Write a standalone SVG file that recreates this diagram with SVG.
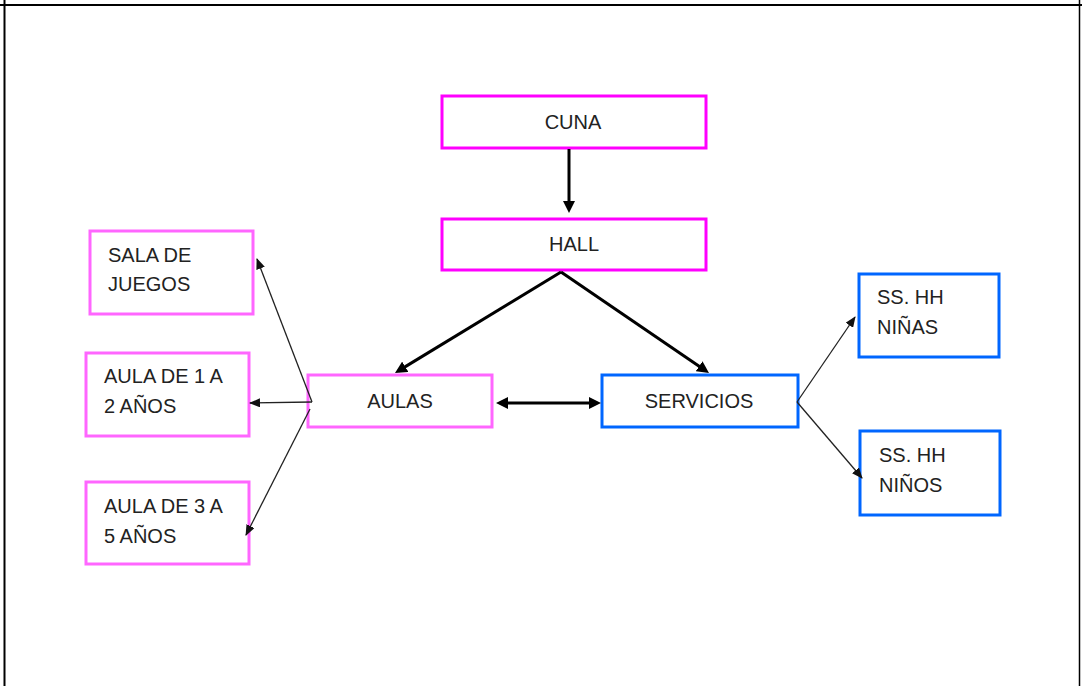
<svg xmlns="http://www.w3.org/2000/svg" width="1082" height="686" viewBox="0 0 1082 686">
<style>
.box{fill:#fff;stroke-width:3}
.mag{stroke:#FF00FF}
.pink{stroke:#FF66FF}
.blue{stroke:#0066FF}
text{font-family:"Liberation Sans",Arial,sans-serif;font-size:20px;fill:#222}
.c{text-anchor:middle}
.thick{stroke:#000;stroke-width:3;fill:none}
.thin{stroke:#222;stroke-width:1.3;fill:none}
</style>
<defs>
<marker id="ah" markerUnits="userSpaceOnUse" markerWidth="12" markerHeight="12" refX="8" refY="6" orient="auto-start-reverse"><path d="M0,0 L12,6 L0,12 z" fill="#000"/></marker>
<marker id="as" markerUnits="userSpaceOnUse" markerWidth="11" markerHeight="9" refX="10" refY="4.5" orient="auto"><path d="M0,0 L11,4.5 L0,9 z" fill="#111"/></marker>
</defs>
<rect width="1082" height="686" fill="#fff"/>
<g id="frame" stroke="#000" fill="none">
<line x1="0" y1="5" x2="1082" y2="5" stroke-width="2"/>
<line x1="4.5" y1="0" x2="4.5" y2="686" stroke-width="2"/>
<line x1="1079.5" y1="0" x2="1079.5" y2="686" stroke-width="1.5"/>
</g>
<g id="cuna"><rect class="box mag" x="442" y="96" width="264" height="52"/><text class="c" x="573" y="129">CUNA</text></g>
<g id="hall"><rect class="box mag" x="442" y="219" width="264" height="51"/><text class="c" x="574" y="251">HALL</text></g>
<g id="aulas"><rect class="box pink" x="308" y="375" width="184" height="52"/><text class="c" x="400" y="408">AULAS</text></g>
<g id="servicios"><rect class="box blue" x="602" y="375" width="196" height="52"/><text class="c" x="699" y="408">SERVICIOS</text></g>
<g id="sala"><rect class="box pink" x="90" y="231" width="163" height="83"/><text x="108" y="262">SALA DE</text><text x="108" y="291">JUEGOS</text></g>
<g id="aula12"><rect class="box pink" x="86" y="353" width="163" height="83"/><text x="104" y="383">AULA DE 1 A</text><text x="104" y="413">2 AÑOS</text></g>
<g id="aula35"><rect class="box pink" x="86" y="482" width="163" height="82"/><text x="104" y="513">AULA DE 3 A</text><text x="104" y="543">5 AÑOS</text></g>
<g id="ninas"><rect class="box blue" x="859" y="274" width="140" height="83"/><text x="877" y="304">SS. HH</text><text x="877" y="334">NIÑAS</text></g>
<g id="ninos"><rect class="box blue" x="860" y="431" width="140" height="84"/><text x="879" y="462">SS. HH</text><text x="879" y="492">NIÑOS</text></g>
<g id="connectors">
<line class="thick" x1="569" y1="149" x2="569" y2="209" marker-end="url(#ah)"/>
<line class="thick" x1="561" y1="272" x2="398.4" y2="370.9" marker-end="url(#ah)"/>
<line class="thick" x1="561" y1="272" x2="705.7" y2="370.7" marker-end="url(#ah)"/>
<line class="thick" x1="500" y1="403" x2="597" y2="403" marker-start="url(#ah)" marker-end="url(#ah)"/>
<line class="thin" x1="312" y1="402" x2="257" y2="259" marker-end="url(#as)"/>
<line class="thin" x1="312" y1="402" x2="250" y2="403" marker-end="url(#as)"/>
<line class="thin" x1="310" y1="409" x2="246" y2="535" marker-end="url(#as)"/>
<line class="thin" x1="797" y1="402" x2="855" y2="317" marker-end="url(#as)"/>
<line class="thin" x1="797" y1="402" x2="862" y2="478" marker-end="url(#as)"/>
</g>
</svg>
